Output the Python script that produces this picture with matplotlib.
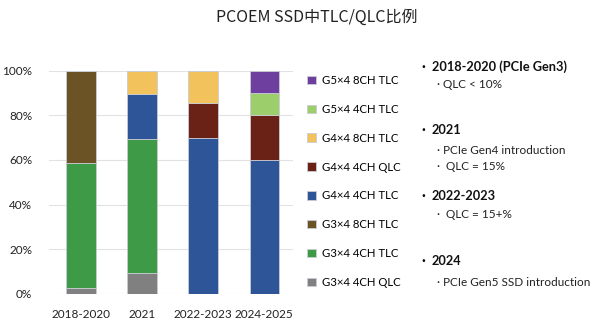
import matplotlib
matplotlib.use("Agg")
import matplotlib.pyplot as plt
import numpy as np

plt.rcParams["font.family"] = ["Lato", "DejaVu Sans"]

periods = ["2018-2020", "2021", "2022-2023", "2024-2025"]

# share of each controller / NAND configuration per period (%)
series = ["G3×4 4CH QLC", "G3×4 4CH TLC", "G3×4 8CH TLC", "G4×4 4CH TLC",
          "G4×4 4CH QLC", "G4×4 8CH TLC", "G5×4 4CH TLC", "G5×4 8CH TLC"]
g3_4ch_qlc = [2.5, 9.5, 0, 0]
g3_4ch_tlc = [56.0, 60.0, 0, 0]
g3_8ch_tlc = [41.5, 0, 0, 0]
g4_4ch_tlc = [0, 20.0, 70.0, 60.0]
g4_4ch_qlc = [0, 0, 15.5, 20.0]
g4_8ch_tlc = [0, 10.5, 14.5, 0]
g5_4ch_tlc = [0, 0, 0, 10.0]
g5_8ch_tlc = [0, 0, 0, 10.0]

colors = ["#808080", "#3f9a48", "#6b5326", "#2e5597",
          "#6a2216", "#f2c35c", "#9ccf6c", "#6f3f9f"]

notes = [
    ("2018-2020 (PCIe Gen3)", ["· QLC < 10%"]),
    ("2021", ["· PCIe Gen4 introduction", "·  QLC = 15%"]),
    ("2022-2023", ["·  QLC = 15+%"]),
    ("2024", ["· PCIe Gen5 SSD introduction"]),
]

fig = plt.figure(figsize=(5.96, 3.27), dpi=100)
ax = fig.add_axes([0.082, 0.101, 0.41, 0.683])

values = [g3_4ch_qlc, g3_4ch_tlc, g3_8ch_tlc, g4_4ch_tlc,
          g4_4ch_qlc, g4_8ch_tlc, g5_4ch_tlc, g5_8ch_tlc]
x = np.arange(len(periods))
bottom = np.zeros(len(periods))
handles = []
for name, vals, c in zip(series, values, colors):
    v = np.array(vals) / 100
    b = ax.bar(x, v, 0.48, bottom=bottom, color=c, label=name,
               edgecolor="#c8ccd4", linewidth=0.6, zorder=3)
    handles.append(b)
    bottom += v

ax.set_xlim(-0.525, 3.475)
ax.set_ylim(0, 1)
ax.set_yticks(np.linspace(0, 1, 6))
ax.set_yticklabels([f"{int(t)}%" for t in np.linspace(0, 100, 6)])
ax.set_xticks(x)
ax.set_xticklabels(periods)
ax.tick_params(length=0, labelsize=8.5, colors="#222222")
ax.tick_params(axis="y", pad=12)
ax.tick_params(axis="x", pad=11)
ax.grid(axis="y", color="#e2e2e2", linewidth=0.8, zorder=0)
for s in ax.spines.values():
    s.set_visible(False)

fig.legend(handles[::-1], series[::-1], loc="upper left",
           bbox_to_anchor=(0.508, 0.785), frameon=False, fontsize=8.2,
           handlelength=0.75, handleheight=0.75, handletextpad=0.5,
           labelspacing=1.57, borderaxespad=0)

fig.text(0.532, 0.948, "PCOEM SSD中TLC/QLC比例", ha="center", va="center",
         fontsize=11.5, family=["Noto Sans CJK SC", "DejaVu Sans"], color="#222222")

# annotation block on the right
head_y = [67, 130, 196, 261]
sub_y = [[85], [150, 167], [215], [282]]
for (head, subs), hy, sys_ in zip(notes, head_y, sub_y):
    fig.text(421 / 596, 1 - hy / 327, "·", ha="left", va="center",
             fontsize=10, fontweight="bold")
    fig.text(432 / 596, 1 - hy / 327, head, ha="left", va="center",
             fontsize=9.2, fontweight="bold", color="#111111")
    for s, yy in zip(subs, sys_):
        fig.text(437 / 596, 1 - yy / 327, s, ha="left", va="center",
                 fontsize=8.5, color="#222222")

fig.savefig("out.png", dpi=100)
